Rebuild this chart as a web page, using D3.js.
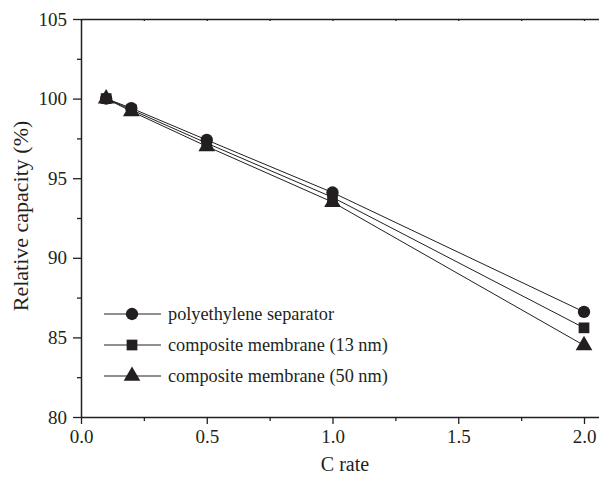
<!DOCTYPE html>
<html>
<head>
<meta charset="utf-8">
<script src="https://cdn.jsdelivr.net/npm/d3@7"></script>
<style>
   body { margin: 0; background: #fff; }
</style>
</head>
<body>
<div class="visHolder"></div>
<script>
const cRates = [0.1, 0.2, 0.5, 1.0, 2.0];
const polyethylene = [100, 99.4, 97.4, 94.1, 86.6];
const membrane13 = [100, 99.3, 97.2, 93.8, 85.6];
const membrane50 = [100, 99.2, 97.0, 93.5, 84.5];
const seriesNames = ["polyethylene separator", "composite membrane (13 nm)", "composite membrane (50 nm)"];
const xTicks = [0.0, 0.5, 1.0, 1.5, 2.0];
const yTicks = [80, 85, 90, 95, 100, 105];

const fullWidth = 599;
const fullHeight = 477;
const padLeft = 81, padTop = 19, padBottom = 417;
const ink = "#231f20";
const serif = "'Liberation Serif', 'Times New Roman', Times, 'DejaVu Serif', serif";

const svg = d3.select(".visHolder")
   .append("svg")
   .attr("width", fullWidth)
   .attr("height", fullHeight)
   .style("display", "block");

const xScale = d3.scaleLinear().domain([0, 2.1]).range([padLeft, padLeft + 503 * 1.05]);
const yScale = d3.scaleLinear().domain([80, 105]).range([padBottom, padTop]);

// minor ticks
const xMinor = d3.range(0.25, 2.1, 0.5);
const yMinor = d3.range(82.5, 105, 5);

svg.append("g")
   .attr("transform", "translate(0," + padBottom + ")")
   .call(d3.axisBottom(xScale).tickValues(xTicks).tickFormat(d3.format(".1f")).tickSize(7).tickPadding(6).tickSizeOuter(0));
svg.append("g")
   .attr("transform", "translate(0," + padBottom + ")")
   .call(d3.axisBottom(xScale).tickValues(xMinor).tickFormat("").tickSize(4))
   .call(g => g.select(".domain").remove());

svg.append("g")
   .attr("transform", "translate(" + padLeft + ",0)")
   .call(d3.axisLeft(yScale).tickValues(yTicks).tickSize(8).tickPadding(6).tickSizeOuter(0));
svg.append("g")
   .attr("transform", "translate(" + padLeft + ",0)")
   .call(d3.axisLeft(yScale).tickValues(yMinor).tickFormat("").tickSize(4))
   .call(g => g.select(".domain").remove());

// top frame with small inward ticks
svg.append("g")
   .attr("transform", "translate(0," + padTop + ")")
   .call(d3.axisTop(xScale).tickValues(d3.range(0, 2.1, 0.25)).tickFormat("").tickSize(-2).tickSizeOuter(0));

svg.selectAll(".domain").attr("stroke", ink).attr("stroke-width", 1.5);
svg.selectAll(".tick line").attr("stroke", ink).attr("stroke-width", 1.3);
svg.selectAll(".tick text").style("font-size", "19px");

const series = [polyethylene, membrane13, membrane50];
const symbols = [d3.symbolCircle, d3.symbolSquare, d3.symbolTriangle];
const symbolSizes = [120, 115, 120];

const line = d3.line()
   .x((d, i) => xScale(cRates[i]))
   .y(d => yScale(d));

series.forEach(s => {
   svg.append("path")
      .datum(s)
      .attr("d", line)
      .attr("fill", "none")
      .attr("stroke", ink)
      .attr("stroke-width", 1);
});
series.forEach((s, k) => {
   svg.selectAll(".m" + k)
      .data(s)
      .enter()
      .append("path")
      .attr("class", "m" + k)
      .attr("d", d3.symbol().type(symbols[k]).size(symbolSizes[k]))
      .attr("transform", (d, i) => "translate(" + xScale(cRates[i]) + "," + yScale(d) + ")")
      .attr("fill", ink);
});

// legend
const legend = svg.append("g");
seriesNames.forEach((name, k) => {
   const y = 314 + k * 31;
   legend.append("line")
      .attr("x1", 104).attr("x2", 161)
      .attr("y1", y).attr("y2", y)
      .attr("stroke", ink).attr("stroke-width", 1);
   legend.append("path")
      .attr("d", d3.symbol().type(symbols[k]).size(symbolSizes[k]))
      .attr("transform", "translate(132," + y + ")")
      .attr("fill", ink);
   legend.append("text")
      .attr("x", 168).attr("y", y)
      .attr("dy", "0.32em")
      .style("font-size", "18.3px")
      .text(name);
});

svg.append("text")
   .attr("x", 345)
   .attr("y", 471)
   .attr("text-anchor", "middle")
   .style("font-size", "20px")
   .text("C rate");

svg.append("text")
   .attr("transform", "translate(28,216) rotate(-90)")
   .attr("text-anchor", "middle")
   .style("font-size", "22px")
   .text("Relative capacity (%)");

svg.selectAll("text").style("font-family", serif).attr("fill", ink);
</script>
</body>
</html>
